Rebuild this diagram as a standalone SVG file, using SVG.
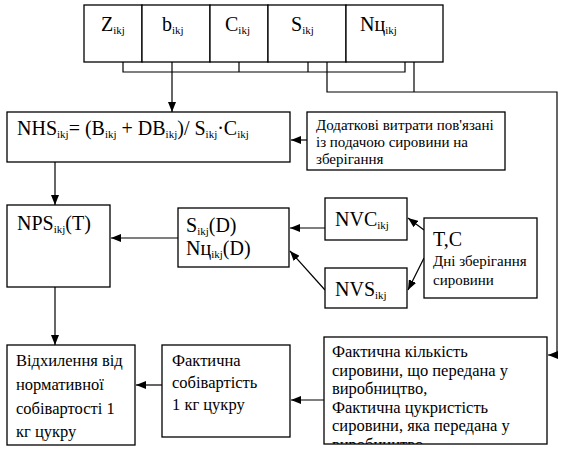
<svg xmlns="http://www.w3.org/2000/svg" width="567" height="457" viewBox="0 0 567 457">
<style>
.b{fill:#fff;stroke:#000;stroke-width:1.3}
.l{fill:none;stroke:#000;stroke-width:1.2}
.f{font-family:'Liberation Serif','DejaVu Serif','Times New Roman',serif;fill:#000}
.m{font-size:20px}
.s{font-size:11px}
.u{font-size:16.5px}
.d{font-size:15px}
</style>
<defs>
<marker id="a" viewBox="0 0 10 8" refX="10" refY="4" markerWidth="10" markerHeight="8" markerUnits="userSpaceOnUse" orient="auto"><path d="M0,0L10,4L0,8z" fill="#000"/></marker>
<clipPath id="cf"><rect x="324" y="337" width="223" height="107"/></clipPath>
</defs>
<g id="connectors" class="l">
<path d="M123,62V72H405V62M239,62V72M308,62V72"/>
<path d="M327,62V92H557V355H548" marker-end="url(#a)"/>
<path d="M414,62V92"/>
<path d="M172,62V112" marker-end="url(#a)"/>
<path d="M307,140H291" marker-end="url(#a)"/>
<path d="M55,162V205" marker-end="url(#a)"/>
<path d="M178,238H111" marker-end="url(#a)"/>
<path d="M325,228H290" marker-end="url(#a)"/>
<path d="M325,290L290,251" marker-end="url(#a)"/>
<path d="M424,230L408,218" marker-end="url(#a)"/>
<path d="M424,258L408,290" marker-end="url(#a)"/>
<path d="M55,287V345" marker-end="url(#a)"/>
<path d="M324,400H291" marker-end="url(#a)"/>
<path d="M162,385H136" marker-end="url(#a)"/>
</g>
<g class="f" font-family="Liberation Serif, DejaVu Serif, serif">
<g id="top-z"><rect class="b" x="84" y="5" width="58" height="57"/><text class="m" x="101" y="31">Z<tspan class="s" dy="3">ikj</tspan></text></g>
<g id="top-b"><rect class="b" x="142" y="5" width="68" height="57"/><text class="m" x="162" y="31">b<tspan class="s" dy="3">ikj</tspan></text></g>
<g id="top-c"><rect class="b" x="210" y="5" width="58" height="57"/><text class="m" x="225" y="31">C<tspan class="s" dy="3">ikj</tspan></text></g>
<g id="top-s"><rect class="b" x="268" y="5" width="78" height="57"/><text class="m" x="291" y="31">S<tspan class="s" dy="3">ikj</tspan></text></g>
<g id="top-n"><rect class="b" x="346" y="5" width="97" height="57"/><text class="m" x="360" y="31">Nц<tspan class="s" dy="3">ikj</tspan></text></g>
<g id="nhs"><rect class="b" x="7" y="112" width="283" height="50"/><text class="m" x="17" y="135">NHS<tspan class="s" dy="3">ikj</tspan><tspan dy="-3">= (B</tspan><tspan class="s" dy="3">ikj</tspan><tspan dy="-3"> + DB</tspan><tspan class="s" dy="3">ikj</tspan><tspan dy="-3">)/ S</tspan><tspan class="s" dy="3">ikj</tspan><tspan dy="-3">·C</tspan><tspan class="s" dy="3">ikj</tspan></text></g>
<g id="dodatkovi"><rect class="b" x="307" y="112" width="198" height="58"/><text class="d" x="316" y="130">Додаткові витрати пов'язані</text><text class="d" x="316" y="147">із подачою сировини на</text><text class="d" x="316" y="164">зберігання</text></g>
<g id="nps"><rect class="b" x="7" y="205" width="103" height="82"/><text class="m" x="17" y="230">NPS<tspan class="s" dy="3">ikj</tspan><tspan dy="-3">(T)</tspan></text></g>
<g id="sd"><rect class="b" x="178" y="208" width="111" height="59"/><text class="m" x="186" y="232">S<tspan class="s" dy="3">ikj</tspan><tspan dy="-3">(D)</tspan></text><text class="m" x="186" y="255">Nц<tspan class="s" dy="3">ikj</tspan><tspan dy="-3">(D)</tspan></text></g>
<g id="nvc"><rect class="b" x="325" y="198" width="82" height="42"/><text class="m" x="335" y="226">NVC<tspan class="s" dy="3">ikj</tspan></text></g>
<g id="nvs"><rect class="b" x="325" y="268" width="82" height="40"/><text class="m" x="335" y="296">NVS<tspan class="s" dy="3">ikj</tspan></text></g>
<g id="tc"><rect class="b" x="424" y="218" width="113" height="80"/><text class="m" x="433" y="246">T,C</text><text class="d" x="433" y="266">Дні зберігання</text><text class="d" x="433" y="285">сировини</text></g>
<g id="vidkhylennia"><rect class="b" x="7" y="345" width="128" height="100"/><text class="u" x="16" y="366">Відхилення від</text><text class="u" x="16" y="390">нормативної</text><text class="u" x="16" y="414">собівартості 1</text><text class="u" x="16" y="437">кг цукру</text></g>
<g id="fakt-sobivartist"><rect class="b" x="162" y="345" width="128" height="92"/><text class="u" x="172" y="366">Фактична</text><text class="u" x="172" y="388">собівартість</text><text class="u" x="172" y="410">1 кг цукру</text></g>
<g id="fakt-kilkist"><rect class="b" x="324" y="337" width="223" height="107"/><g clip-path="url(#cf)"><text class="u" x="332" y="357">Фактична кількість</text><text class="u" x="332" y="375.5">сировини, що передана у</text><text class="u" x="332" y="394">виробництво,</text><text class="u" x="332" y="412.5">Фактична цукристість</text><text class="u" x="332" y="431">сировини, яка передана у</text><text class="u" x="332" y="449.5">виробництво</text></g></g>
</g>
</svg>
